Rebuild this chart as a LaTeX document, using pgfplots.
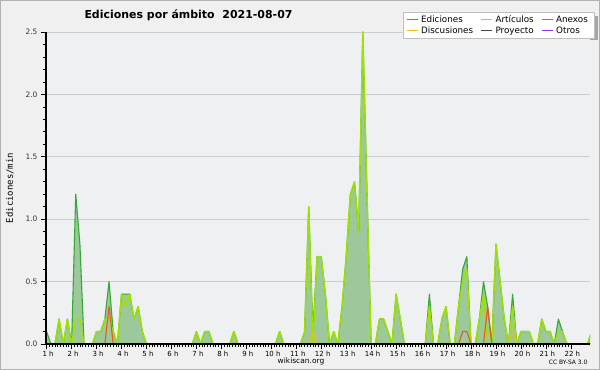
\documentclass[border=0pt]{standalone}
\usepackage{fontspec}
\setmainfont{DejaVu Sans}
\setmonofont{DejaVu Sans Mono}
\usepackage{pgfplots}
\pgfplotsset{compat=1.18}
\usepackage{pgfplotstable}
\definecolor{bgout}{RGB}{240,240,240}
\definecolor{bgplot}{RGB}{238,240,242}
\definecolor{cedi}{RGB}{51,170,51}
\definecolor{cfill}{RGB}{156,200,156}
\definecolor{cart}{RGB}{160,225,0}
\definecolor{canx}{RGB}{238,90,20}
\definecolor{cdis}{RGB}{238,190,20}
\definecolor{cpro}{RGB}{68,68,68}
\definecolor{cotr}{RGB}{136,51,238}
\definecolor{cgrid}{RGB}{205,205,205}
% j = 10-minute slot starting at 1 h
\pgfplotstableread{
j E A X D P O
0 0.1 0 0 0 0 0
1 0 0 0 0 0 0
2 0 0 0 0 0 0
3 0.2 0.2 0 0 0 0
4 0 0 0 0 0 0
5 0.2 0.2 0 0 0 0
6 0 0 0 0 0 0
7 1.2 0.2 0 0 0 0
8 0.8 0.2 0 0 0 0
9 0 0 0 0 0 0
10 0 0 0 0 0 0
11 0 0 0 0 0 0
12 0.1 0.1 0 0 0 0
13 0.1 0.1 0 0 0 0
14 0.2 0.2 0 0 0 0
15 0.5 0.2 0.3 0 0 0
16 0.1 0.1 0 0 0 0
17 0 0 0 0 0 0
18 0.4 0.4 0 0 0 0
19 0.4 0.3 0 0 0 0
20 0.4 0.4 0 0 0 0
21 0.2 0.2 0 0 0 0
22 0.3 0.3 0 0 0 0
23 0.1 0.1 0 0 0 0
24 0 0 0 0 0 0
25 0 0 0 0 0 0
26 0 0 0 0 0 0
27 0 0 0 0 0 0
28 0 0 0 0 0 0
29 0 0 0 0 0 0
30 0 0 0 0 0 0
31 0 0 0 0 0 0
32 0 0 0 0 0 0
33 0 0 0 0 0 0
34 0 0 0 0 0 0
35 0 0 0 0 0 0
36 0.1 0.1 0 0 0 0
37 0 0 0 0 0 0
38 0.1 0.1 0 0 0 0
39 0.1 0.1 0 0 0 0
40 0 0 0 0 0 0
41 0 0 0 0 0 0
42 0 0 0 0 0 0
43 0 0 0 0 0 0
44 0 0 0 0 0 0
45 0.1 0.1 0 0 0 0
46 0 0 0 0 0 0
47 0 0 0 0 0 0
48 0 0 0 0 0 0
49 0 0 0 0 0 0
50 0 0 0 0 0 0
51 0 0 0 0 0 0
52 0 0 0 0 0 0
53 0 0 0 0 0 0
54 0 0 0 0 0 0
55 0 0 0 0 0 0
56 0.1 0.1 0 0 0 0
57 0 0 0 0 0 0
58 0 0 0 0 0 0
59 0 0 0 0 0 0
60 0 0 0 0 0 0
61 0 0 0 0 0 0
62 0.1 0.1 0 0 0 0
63 1.1 1.1 0 0 0 0
64 0.1 0 0 0.1 0 0
65 0.7 0.7 0 0 0 0
66 0.7 0.7 0 0 0 0
67 0.4 0.4 0 0 0 0
68 0 0 0 0 0 0
69 0.1 0.1 0 0 0 0
70 0 0 0 0 0 0
71 0.3 0.3 0 0 0 0
72 0.7 0.7 0 0 0 0
73 1.2 1.2 0 0 0 0
74 1.3 1.3 0 0 0 0
75 0.9 0.9 0 0 0 0
76 2.5 2.5 0 0 0 0
77 1.2 1.2 0 0 0 0
78 0 0 0 0 0 0
79 0 0 0 0 0 0
80 0.2 0.2 0 0 0 0
81 0.2 0.2 0 0 0 0
82 0.1 0.1 0 0 0 0
83 0 0 0 0 0 0
84 0.4 0.4 0 0 0 0
85 0.2 0.2 0 0 0 0
86 0 0 0 0 0 0
87 0 0 0 0 0 0
88 0 0 0 0 0 0
89 0 0 0 0 0 0
90 0 0 0 0 0 0
91 0 0 0 0 0 0
92 0.4 0.3 0 0 0 0
93 0 0 0 0 0 0
94 0 0 0 0 0 0
95 0.2 0.2 0 0 0 0
96 0.3 0.3 0 0 0 0
97 0 0 0 0 0 0
98 0 0 0 0 0 0
99 0.3 0.3 0 0 0 0
100 0.6 0.5 0.1 0 0 0
101 0.7 0.6 0.1 0 0 0
102 0 0 0 0 0 0
103 0 0 0 0 0 0
104 0.2 0.2 0 0 0 0
105 0.5 0.4 0 0 0 0
106 0.3 0 0.3 0 0 0
107 0 0 0 0 0 0
108 0.8 0.8 0 0 0 0
109 0.5 0.5 0 0 0 0
110 0.2 0.2 0 0 0 0
111 0 0 0 0 0 0
112 0.4 0.3 0 0.1 0 0
113 0 0 0 0 0 0
114 0.1 0.1 0 0 0 0
115 0.1 0.1 0 0 0 0
116 0.1 0.1 0 0 0 0
117 0 0 0 0 0 0
118 0 0 0 0 0 0
119 0.2 0.2 0 0 0 0
120 0.1 0.1 0 0 0 0
121 0.1 0.1 0 0 0 0
122 0 0 0 0 0 0
123 0.2 0.1 0 0 0 0
124 0.1 0.1 0 0 0 0
125 0 0 0 0 0 0
126 0 0 0 0 0 0
127 0 0 0 0 0 0
128 0 0 0 0 0 0
129 0 0 0 0 0 0
130 0 0 0 0 0 0
131 0.1 0.1 0 0 0 0
}\data
\begin{document}
\begin{tikzpicture}
\path[use as bounding box] (0bp,0bp) rectangle (600bp,370bp);
\fill[bgout] (0bp,0bp) rectangle (600bp,370bp);
\draw[gray!60, line width=1bp] (0.5bp,0.5bp) rectangle (599.5bp,369.5bp);
% legend shadow
\fill[gray!70] (408bp,330bp) rectangle (598bp,354bp);
\begin{axis}[
  at={(46bp,26bp)}, anchor=south west,
  scale only axis, width=544bp, height=312bp,
  xmin=-0.15, xmax=130.6, ymin=0, ymax=2.5,
  clip mode=individual,
  axis x line=bottom, axis y line=left,
  axis line style={-, line width=1.2bp, black},
  axis background/.style={fill=bgplot},
  tick align=outside,
  major tick length=5bp, minor tick length=3bp,
  every tick/.style={black, line width=0.7bp},
  xtick={0,6,...,126},
  xticklabels={1 h,2 h,3 h,4 h,5 h,6 h,7 h,8 h,9 h,10 h,11 h,12 h,13 h,14 h,15 h,16 h,17 h,18 h,19 h,20 h,21 h,22 h},
  minor x tick num=8,
  ytick={0,0.5,...,2.5},
  minor y tick num=4,
  ymajorgrids,
  major grid style={cgrid, line width=0.8bp},
  x tick label style={font=\fontsize{7}{8}\selectfont, yshift=1bp, xshift=1.5bp},
  y tick label style={font=\fontsize{7.5}{8}\selectfont, text=black!80, /pgf/number format/.cd, fixed, fixed zerofill, precision=1, assume math mode=true},
  legend columns=3,
  legend cell align=left,
  legend image code/.code={\draw[#1, line width=0.9bp] (0bp,0bp) -- (11bp,0bp);},
  legend style={at={(1.0074,1.0641)}, anchor=north east, draw=gray!50, fill=white,
    font=\fontsize{8.8}{9}\selectfont, inner xsep=3bp, inner ysep=1.5bp, row sep=-1.5bp,
    nodes={inner xsep=3bp},
    /tikz/every even column/.append style={column sep=4.5bp}},
]
\addplot[draw=none, fill=cfill, forget plot] table[x=j,y=E]{\data} \closedcycle;
\addplot[cedi, line width=1.1bp, line join=round] table[x=j,y=E]{\data};
\addlegendentry{Ediciones}
\addplot[cart, line width=1.4bp, line join=round] table[x=j,y=A]{\data};
\addlegendentry{Artículos}
\addplot[canx, line width=1.1bp, line join=round] table[x=j,y=X]{\data};
\addlegendentry{Anexos}
\addplot[cdis, line width=1.1bp, line join=round] table[x=j,y=D]{\data};
\addlegendentry{Discusiones}
\addplot[cpro, line width=1.1bp, line join=round] table[x=j,y=P]{\data};
\addlegendentry{Proyecto}
\addplot[cotr, line width=1.1bp, line join=round] table[x=j,y=O]{\data};
\addlegendentry{Otros}
\draw[black, line width=1.5bp] (rel axis cs:0,0) -- (rel axis cs:1,0);
\draw[black, line width=1.2bp] (rel axis cs:0,0) -- (rel axis cs:0,1);
\end{axis}
\node[font=\bfseries\fontsize{11}{13}\selectfont] at (188.5bp,355bp) {Ediciones por ámbito\hspace{0.7em}2021-08-07};
\node[rotate=90, font=\ttfamily\fontsize{9}{10}\selectfont] at (10bp,182bp) {Ediciones/min};
\node[font=\fontsize{7.5}{9}\selectfont] at (301bp,9bp) {wikiscan.org};
\node[anchor=east, font=\fontsize{6}{7}\selectfont] at (591bp,8bp) {CC BY-SA 3.0};
\end{tikzpicture}
\end{document}
